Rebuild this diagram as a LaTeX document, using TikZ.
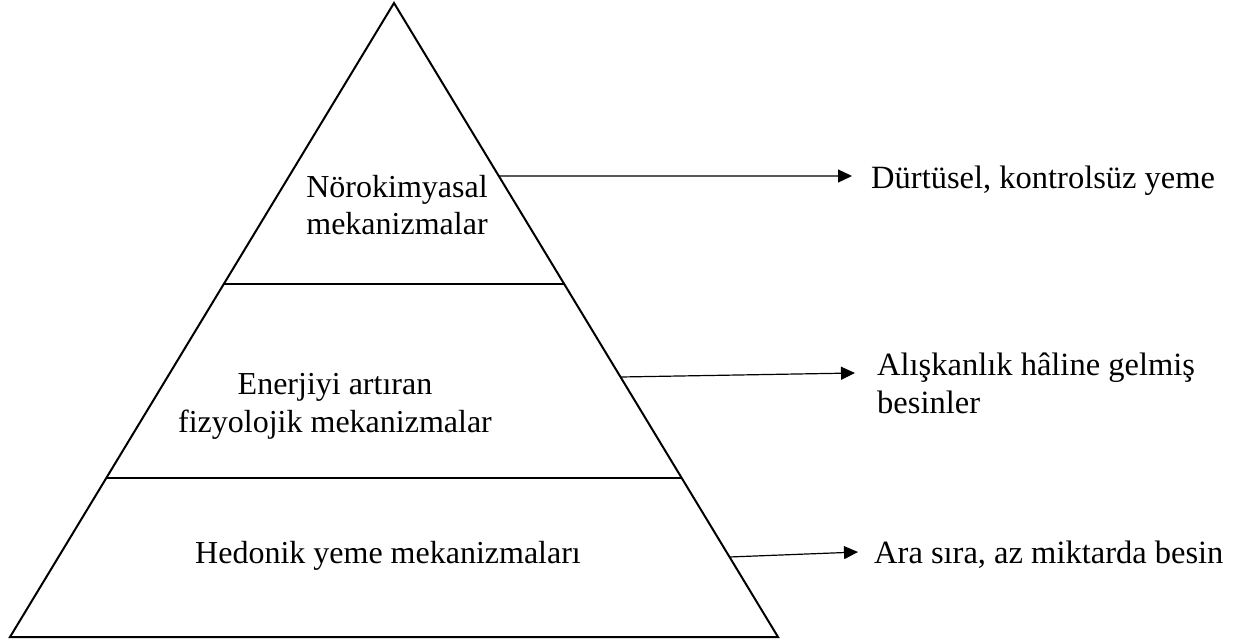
\documentclass[tikz,border=0pt]{standalone}
\usepackage{fontspec}
\setmainfont{Liberation Serif}
\usetikzlibrary{arrows.meta,calc}
\begin{document}
\begin{tikzpicture}[x=1pt,y=-1pt,
  edge/.style={line width=2pt,line join=miter},
  divider/.style={line width=1.3pt},
  arr/.style={line width=1.2pt,-{Triangle[length=14pt,width=13pt]}},
  lbl/.style={font=\fontsize{32}{37.5}\selectfont,inner sep=0pt,align=center,anchor=base},
  rlbl/.style={font=\fontsize{32.5}{38}\selectfont,inner sep=0pt,align=left,anchor=base west}]
\useasboundingbox[fill=white] (0,0) rectangle (1233,643);
\coordinate (apex) at (394,3);
\coordinate (bl) at (10,637);
\coordinate (br) at (778,637);
\draw[edge] (bl) -- (apex) -- (br) -- cycle;
\coordinate (d1l) at ($(apex)!0.4432!(bl)$);
\coordinate (d1r) at ($(apex)!0.4432!(br)$);
\coordinate (d2l) at ($(apex)!0.7492!(bl)$);
\coordinate (d2r) at ($(apex)!0.7492!(br)$);
\draw[divider] (d1l) -- (d1r);
\draw[divider] (d2l) -- (d2r);
\coordinate (s1) at ($(apex)!0.2729!(br)$);
\coordinate (s2) at ($(apex)!0.5899!(br)$);
\coordinate (s3) at ($(apex)!0.8738!(br)$);
\coordinate (e1) at (852,176);
\coordinate (e2) at (855,373);
\coordinate (e3) at (858,552);
\draw[arr] (s1) -- (e1);
\draw[arr] (s2) -- (e2);
\draw[arr] (s3) -- (e3);
\node[lbl] (t1) at (397,234.5) {Nörokimyasal\\mekanizmalar};
\node[lbl] (t2) at (335,432) {Enerjiyi artıran\\fizyolojik mekanizmalar};
\node[lbl] (t3) at (388,563) {Hedonik yeme mekanizmaları};
\node[rlbl] (r1) at (871,188) {Dürtüsel, kontrolsüz yeme};
\node[rlbl] (r2) at (877,413) {Alışkanlık hâline gelmiş\\besinler};
\node[rlbl] (r3) at (874,563) {Ara sıra, az miktarda besin};
\end{tikzpicture}
\end{document}
